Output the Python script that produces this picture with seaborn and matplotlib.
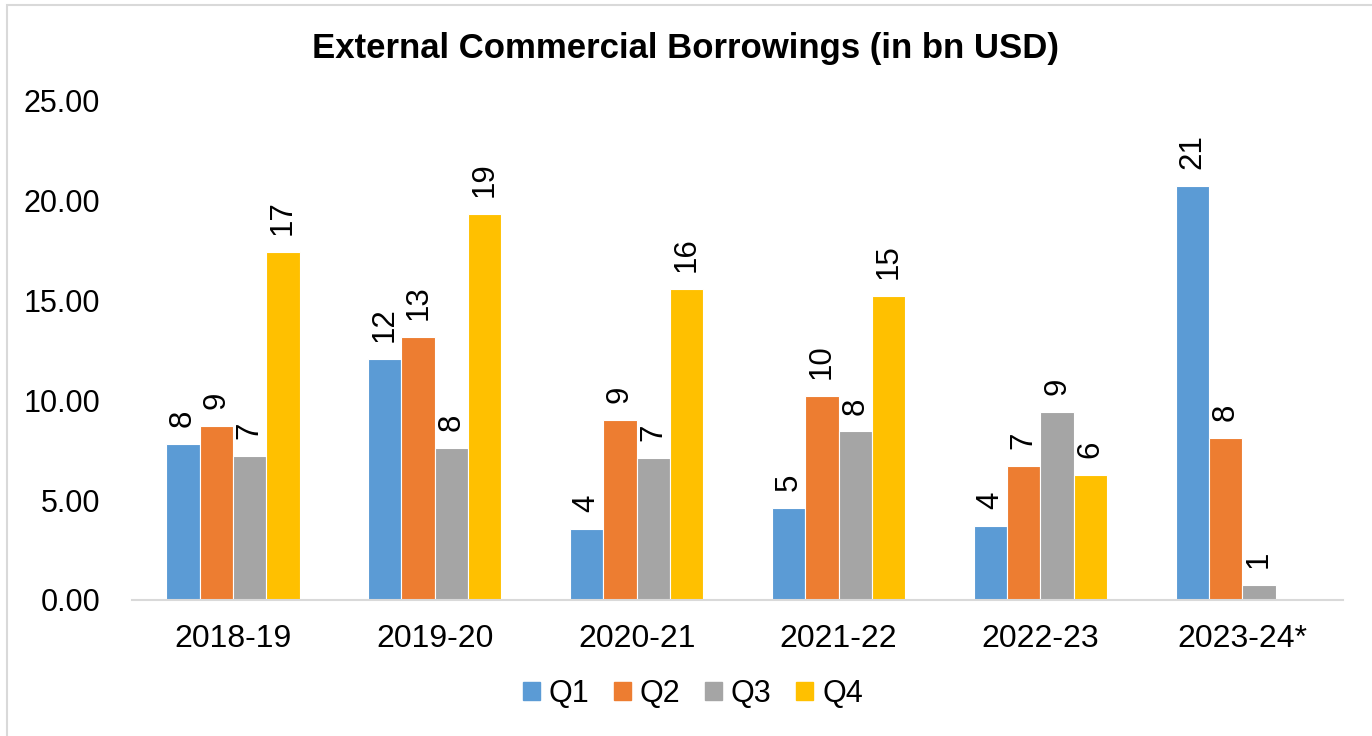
import matplotlib
matplotlib.use("Agg")
import matplotlib.pyplot as plt
import seaborn as sns
import pandas as pd
import numpy as np
from matplotlib.patches import Rectangle

years = ["2018-19", "2019-20", "2020-21", "2021-22", "2022-23", "2023-24*"]
quarters = ["Q1", "Q2", "Q3", "Q4"]
q1 = [7.82, 12.07, 3.56, 4.61, 3.71, 20.74]
q2 = [8.72, 13.18, 9.02, 10.22, 6.71, 8.12]
q3 = [7.21, 7.62, 7.11, 8.45, 9.42, 0.75]
q4 = [17.43, 19.34, 15.58, 15.23, 6.26, np.nan]
colors = ["#5B9BD5", "#ED7D31", "#A5A5A5", "#FFC000"]

rows = []
for q, vals in zip(quarters, [q1, q2, q3, q4]):
    for y, v in zip(years, vals):
        rows.append({"Year": y, "Quarter": q, "Value": v})
df = pd.DataFrame(rows)

sns.set_theme(style="white")
plt.rcParams["font.family"] = ["Liberation Sans", "DejaVu Sans"]
plt.rcParams["text.color"] = "black"

fig = plt.figure(figsize=(13.72, 7.36), dpi=100)
ax = fig.add_axes([0.0962, 0.1848, 0.8828, 0.678])

sns.barplot(data=df, x="Year", y="Value", hue="Quarter", order=years,
            hue_order=quarters, palette=colors, width=0.66, ax=ax,
            edgecolor="white", linewidth=0.8, errorbar=None, saturation=1)

for cont in ax.containers:
    ax.bar_label(cont, fmt="%.0f", rotation=90, padding=12, fontsize=22.5,
                 color="#000000")

ax.set_ylim(0, 25)
ax.set_xlim(-0.5, 5.5)
ax.set_yticks([0, 5, 10, 15, 20, 25])
ax.set_yticklabels([f"{v:.2f}" for v in [0, 5, 10, 15, 20, 25]])
ax.tick_params(axis="y", labelsize=22, length=0, pad=23, labelcolor="black")
ax.tick_params(axis="x", labelsize=23, length=0, pad=17, labelcolor="black")
ax.set_xlabel("")
ax.set_ylabel("")
for s in ["top", "right", "left"]:
    ax.spines[s].set_visible(False)
ax.spines["bottom"].set_color("#D9D9D9")
ax.spines["bottom"].set_linewidth(1.5)

ax.legend_.remove()
handles = [Rectangle((0, 0), 1, 1, color=c) for c in colors]
fig.legend(handles, quarters, loc="center", bbox_to_anchor=(0.505, 0.057),
           ncol=4, frameon=False, fontsize=22, handlelength=0.55,
           handleheight=0.55, handletextpad=0.3, columnspacing=0.8)

fig.text(0.5, 0.934, "External Commercial Borrowings (in bn USD)",
         ha="center", va="center", fontsize=25, fontweight="bold",
         color="black")

border = Rectangle((7 / 1372, -0.1), 1.2, 1 - 5 / 736 + 0.1,
                   transform=fig.transFigure, fill=False,
                   edgecolor="#D9D9D9", linewidth=1.5)
fig.add_artist(border)

fig.savefig("out.png", dpi=100, facecolor="white")
